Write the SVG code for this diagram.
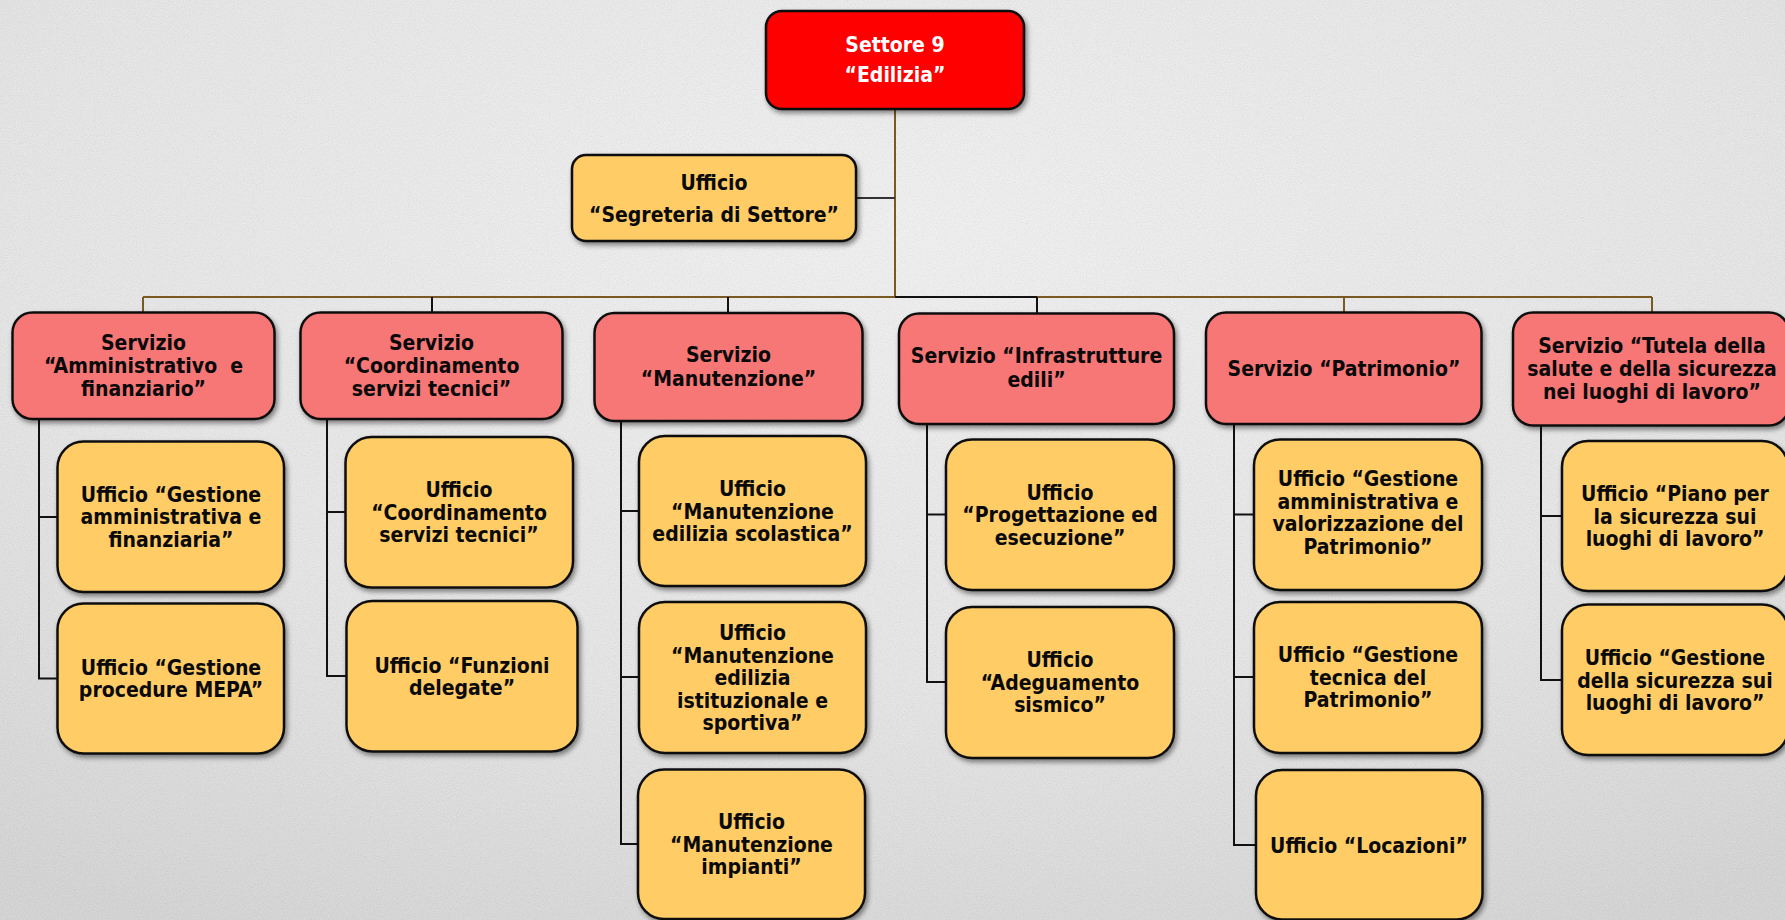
<svg xmlns="http://www.w3.org/2000/svg" width="1785" height="920" viewBox="0 0 1785 920">
<defs>
  <radialGradient id="bg" cx="50%" cy="25%" r="85%">
    <stop offset="0" stop-color="#F4F4F4"/>
    <stop offset="0.6" stop-color="#E8E8E8"/>
    <stop offset="1" stop-color="#D6D6D6"/>
  </radialGradient>
  <filter id="noise" x="0" y="0" width="100%" height="100%">
    <feTurbulence type="fractalNoise" baseFrequency="0.85" numOctaves="3" seed="7"/>
    <feColorMatrix type="matrix" values="1 0 0 0 0  1 0 0 0 0  1 0 0 0 0  0 0 0 0 0.14"/>
  </filter>
  <filter id="shadow" x="-10%" y="-10%" width="125%" height="130%">
    <feDropShadow dx="2" dy="3" stdDeviation="2.5" flood-color="#000" flood-opacity="0.45"/>
  </filter>
</defs>
<style>
  .box { stroke: #111; stroke-width: 2.5; filter: url(#shadow); }
  .top { fill: #FF0000; }
  .svc { fill: #F77676; }
  .uff { fill: #FFCC66; }
  text { font-family: "DejaVu Sans Condensed", "DejaVu Sans", sans-serif; font-weight: bold; font-size: 21px; text-anchor: middle; fill: #0A0A0A; }
  text.w { fill: #FFFFFF; }
  .brown { fill: none; stroke: #7A5A22; stroke-width: 2; }
  .black { fill: none; stroke: #111; stroke-width: 2; }
  .gray { fill: none; stroke: #333; stroke-width: 2; }
</style>

<rect x="0" y="0" width="1785" height="920" fill="url(#bg)"/>
<rect x="0" y="0" width="1785" height="920" filter="url(#noise)" opacity="0.9"/>

<g id="connectors">
  <path class="brown" d="M895 109 V297 M143 297 H895 M1037 297 H1652 M143 297 V312 M1344 297 V312 M1652 297 V312"/>
  <path class="gray" d="M856 198 H895"/>
  <path class="black" d="M895 297 H1037 M432 297 V312 M728 297 V313 M1037 297 V313"/>
  <path class="black" d="M39 419 V678.5 H58 M39 517 H58"/>
  <path class="black" d="M327 419 V676 H347 M327 512 H346"/>
  <path class="black" d="M621 421 V844 H638 M621 511 H639 M621 677 H639"/>
  <path class="black" d="M927 424 V682 H946 M927 514.5 H946"/>
  <path class="black" d="M1234 424 V845 H1256 M1234 514.5 H1254 M1234 677 H1254"/>
  <path class="black" d="M1541 426 V680 H1562 M1541 516 H1562"/>
</g>

<g id="settore9">
  <rect class="box top" x="766" y="11" width="258" height="98" rx="16"/>
  <text class="w" x="895" y="52">Settore 9</text>
  <text class="w" x="895" y="82">“Edilizia”</text>
</g>

<g id="segreteria">
  <rect class="box uff" x="572" y="155" width="284" height="86" rx="14"/>
  <text x="714" y="190">Ufficio</text>
  <text x="714" y="222">“Segreteria di Settore”</text>
</g>

<g id="srv-amministrativo">
  <rect class="box svc" x="12.5" y="312.5" width="262" height="106.5" rx="20"/>
  <text x="143.5" y="350">Servizio</text>
  <text x="143.5" y="373">“Amministrativo &#160;e</text>
  <text x="143.5" y="396">finanziario”</text>
</g>

<g id="srv-coordinamento">
  <rect class="box svc" x="300.5" y="312.5" width="262" height="106.5" rx="20"/>
  <text x="431.5" y="350">Servizio</text>
  <text x="431.5" y="373">“Coordinamento</text>
  <text x="431.5" y="396">servizi tecnici”</text>
</g>

<g id="srv-manutenzione">
  <rect class="box svc" x="594.5" y="313" width="268" height="108" rx="20"/>
  <text x="728.5" y="362">Servizio</text>
  <text x="728.5" y="386">“Manutenzione”</text>
</g>

<g id="srv-infrastrutture">
  <rect class="box svc" x="899" y="313.5" width="275" height="110.5" rx="20"/>
  <text x="1036.5" y="363">Servizio “Infrastrutture</text>
  <text x="1036.5" y="387">edili”</text>
</g>

<g id="srv-patrimonio">
  <rect class="box svc" x="1206" y="312.5" width="275.5" height="111.5" rx="20"/>
  <text x="1344" y="376">Servizio “Patrimonio”</text>
</g>

<g id="srv-tutela">
  <rect class="box svc" x="1513" y="312.5" width="276" height="113" rx="20"/>
  <text x="1652" y="353">Servizio “Tutela della</text>
  <text x="1652" y="376">salute e della sicurezza</text>
  <text x="1652" y="399">nei luoghi di lavoro”</text>
</g>

<g id="uff-gestione-amm">
  <rect class="box uff" x="57.5" y="441.5" width="226.5" height="150.5" rx="26"/>
  <text x="171" y="501.5">Ufficio “Gestione</text>
  <text x="171" y="524">amministrativa e</text>
  <text x="171" y="546.5">finanziaria”</text>
</g>

<g id="uff-mepa">
  <rect class="box uff" x="57.5" y="603.5" width="226.5" height="150" rx="26"/>
  <text x="171" y="674.5">Ufficio “Gestione</text>
  <text x="171" y="697">procedure MEPA”</text>
</g>

<g id="uff-coordinamento">
  <rect class="box uff" x="345.5" y="437" width="227.5" height="150.5" rx="26"/>
  <text x="459" y="497">Ufficio</text>
  <text x="459" y="519.5">“Coordinamento</text>
  <text x="459" y="542">servizi tecnici”</text>
</g>

<g id="uff-funzioni">
  <rect class="box uff" x="346.5" y="601" width="231" height="150.5" rx="26"/>
  <text x="462" y="672.5">Ufficio “Funzioni</text>
  <text x="462" y="695">delegate”</text>
</g>

<g id="uff-man-scolastica">
  <rect class="box uff" x="639" y="436" width="227" height="150" rx="26"/>
  <text x="752.5" y="496">Ufficio</text>
  <text x="752.5" y="518.5">“Manutenzione</text>
  <text x="752.5" y="541">edilizia scolastica”</text>
</g>

<g id="uff-man-istituzionale">
  <rect class="box uff" x="639" y="602" width="227" height="151" rx="26"/>
  <text x="752.5" y="640">Ufficio</text>
  <text x="752.5" y="662.5">“Manutenzione</text>
  <text x="752.5" y="685">edilizia</text>
  <text x="752.5" y="707.5">istituzionale e</text>
  <text x="752.5" y="730">sportiva”</text>
</g>

<g id="uff-man-impianti">
  <rect class="box uff" x="638" y="769.5" width="227" height="149.5" rx="26"/>
  <text x="751.5" y="829">Ufficio</text>
  <text x="751.5" y="851.5">“Manutenzione</text>
  <text x="751.5" y="874">impianti”</text>
</g>

<g id="uff-progettazione">
  <rect class="box uff" x="946" y="439.5" width="228" height="150.5" rx="26"/>
  <text x="1060" y="499.5">Ufficio</text>
  <text x="1060" y="522">“Progettazione ed</text>
  <text x="1060" y="544.5">esecuzione”</text>
</g>

<g id="uff-sismico">
  <rect class="box uff" x="946" y="607" width="228" height="151" rx="26"/>
  <text x="1060" y="667">Ufficio</text>
  <text x="1060" y="689.5">“Adeguamento</text>
  <text x="1060" y="712">sismico”</text>
</g>

<g id="uff-valorizzazione">
  <rect class="box uff" x="1254" y="439.5" width="228" height="150.5" rx="26"/>
  <text x="1368" y="486">Ufficio “Gestione</text>
  <text x="1368" y="508.5">amministrativa e</text>
  <text x="1368" y="531">valorizzazione del</text>
  <text x="1368" y="553.5">Patrimonio”</text>
</g>

<g id="uff-tecnica">
  <rect class="box uff" x="1254" y="602" width="228" height="151" rx="26"/>
  <text x="1368" y="662">Ufficio “Gestione</text>
  <text x="1368" y="684.5">tecnica del</text>
  <text x="1368" y="707">Patrimonio”</text>
</g>

<g id="uff-locazioni">
  <rect class="box uff" x="1256" y="770" width="226.5" height="149.5" rx="26"/>
  <text x="1369" y="852.5">Ufficio “Locazioni”</text>
</g>

<g id="uff-piano">
  <rect class="box uff" x="1562" y="441" width="226" height="150" rx="26"/>
  <text x="1675" y="501">Ufficio “Piano per</text>
  <text x="1675" y="523.5">la sicurezza sui</text>
  <text x="1675" y="546">luoghi di lavoro”</text>
</g>

<g id="uff-gestione-sicurezza">
  <rect class="box uff" x="1562" y="604.5" width="226" height="150.5" rx="26"/>
  <text x="1675" y="665">Ufficio “Gestione</text>
  <text x="1675" y="687.5">della sicurezza sui</text>
  <text x="1675" y="710">luoghi di lavoro”</text>
</g>
</svg>
